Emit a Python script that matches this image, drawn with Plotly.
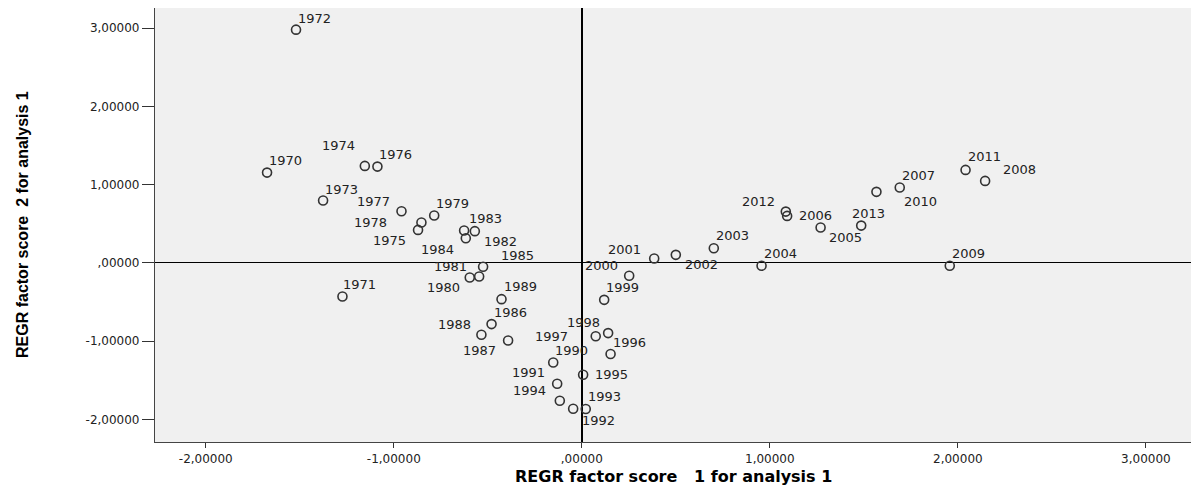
import plotly.graph_objects as go

# ---- data ----
years = list(range(1970, 2014))
factor1 = [-1.674, -1.273, -1.520, -1.376, -1.154, -0.871, -1.087, -0.959, -0.853, -0.785,
           -0.596, -0.546, -0.569, -0.626, -0.617, -0.525, -0.480, -0.392, -0.534, -0.427,
           -0.152, -0.131, 0.021, -0.046, -0.117, 0.007, 0.153, 0.074, 0.140, 0.119,
           0.252, 0.385, 0.500, 0.702, 0.956, 1.270, 1.092, 1.691, 2.145, 1.957,
           1.567, 2.041, 1.085, 1.486]
factor2 = [1.153, -0.430, 2.980, 0.796, 1.239, 0.421, 1.230, 0.660, 0.515, 0.604,
           -0.188, -0.175, 0.405, 0.413, 0.315, -0.051, -0.783, -0.992, -0.920, -0.464,
           -1.273, -1.545, -1.869, -1.865, -1.762, -1.430, -1.166, -0.939, -0.898, -0.473,
           -0.166, 0.055, 0.102, 0.187, -0.038, 0.451, 0.600, 0.962, 1.047, -0.038,
           0.907, 1.188, 0.655, 0.476]
tick_vals_x = [-2, -1, 0, 1, 2, 3]
tick_text_x = ["-2,00000", "-1,00000", ",00000", "1,00000", "2,00000", "3,00000"]
tick_vals_y = [-2, -1, 0, 1, 2, 3]
tick_text_y = ["-2,00000", "-1,00000", ",00000", "1,00000", "2,00000", "3,00000"]

# ---- label placement (style, pixels) ----
label_anchor = ["left", "left", "left", "left", "right", "right", "left", "right", "right", "left",
                "right", "right", "left", "left", "right", "left", "left", "right", "right", "left",
                "left", "right", "left", "left", "right", "left", "left", "right", "right", "left",
                "right", "right", "left", "left", "left", "left", "left", "left", "left", "left",
                "left", "left", "right", "center"]
label_dx = [0, -1, 0, 0, -8, -10, 0, -10, -32, 0,
            -8, -10, 7, 3, -10, 16, 0, -10, -8, 0,
            0, -10, -6, 13, -12, 10, 0, -26, -6, 0,
            -9, -11, 7, 0, 0, 6, 10, 0, 16, 0,
            26, 0, -9, 7]
label_dy = [12, 12, 11, 11, 20, -11, 12, 10, 0, 12,
            -10, 10, -10, 12, -11, 11, 12, -10, 10, 13,
            12, 11, -11, 12, 10, 0, 12, 0, 11, 12,
            10, 9, -10, 13, 12, -10, 0, 12, 11, 12,
            -10, 13, 10, 12]

fig = go.Figure()
fig.add_trace(go.Scatter(
    x=factor1, y=factor2, mode="markers",
    marker=dict(symbol="circle-open", size=9, color="#333333", line=dict(width=1.6, color="#333333")),
    hoverinfo="text", text=[str(y) for y in years], showlegend=False,
))

annotations = []
for yr, xv, yv, anc, dx, dy in zip(years, factor1, factor2, label_anchor, label_dx, label_dy):
    annotations.append(dict(
        x=xv, y=yv, xref="x", yref="y", text=str(yr), showarrow=False,
        xanchor=anc, yanchor="middle", xshift=dx, yshift=dy,
        font=dict(family="DejaVu Sans, Arial, sans-serif", size=13, color="#222222"),
    ))

# axis titles
annotations.append(dict(
    x=0.5, y=0, xref="paper", yref="paper", yshift=-34, xanchor="center", yanchor="middle",
    text="REGR factor score\u00a0\u00a0\u00a01 for analysis 1", showarrow=False,
    font=dict(family="DejaVu Sans, Arial, sans-serif", size=16, color="#000000", weight="bold"),
))
annotations.append(dict(
    x=0, y=0.5, xref="paper", yref="paper", xshift=-133, xanchor="center", yanchor="middle",
    text="REGR factor score\u00a0\u00a02 for analysis 1", showarrow=False, textangle=-90,
    font=dict(family="Liberation Sans Narrow, Arial Narrow, Liberation Sans, sans-serif", size=16,
              color="#000000", weight="bold"),
))

fig.update_layout(
    width=1183, height=477,
    margin=dict(l=147, r=0, t=0, b=43),
    paper_bgcolor="white", plot_bgcolor="#f0f0f0",
    annotations=annotations,
    xaxis=dict(range=[-2.27, 3.24], tickvals=tick_vals_x, ticktext=tick_text_x,
               showgrid=False, zeroline=True, zerolinecolor="#000000", zerolinewidth=1.6,
               showline=True, mirror=True, linecolor="#444444", linewidth=1.2,
               ticks="outside", ticklen=5, tickcolor="#333333",
               tickfont=dict(family="DejaVu Sans, Arial, sans-serif", size=12, color="#222222")),
    yaxis=dict(range=[-2.29, 3.257], tickvals=tick_vals_y, ticktext=tick_text_y,
               showgrid=False, zeroline=True, zerolinecolor="#000000", zerolinewidth=1.2,
               showline=True, mirror=True, linecolor="#444444", linewidth=1.2,
               ticks="outside", ticklen=12, tickcolor="#333333",
               tickfont=dict(family="DejaVu Sans, Arial, sans-serif", size=12, color="#222222")),
)

fig.write_html("out.html")
